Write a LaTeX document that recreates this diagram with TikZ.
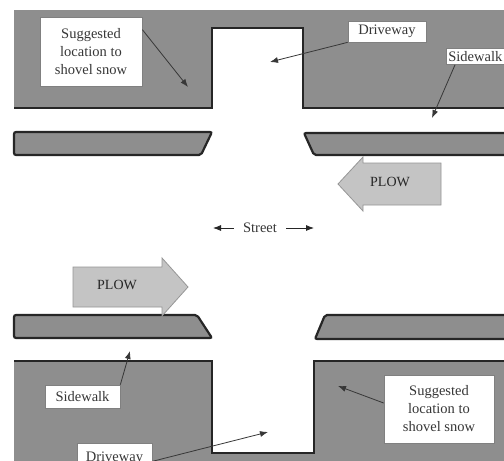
\documentclass[tikz,border=0pt]{standalone}
\usepackage{fontspec}
\setmainfont{Liberation Serif}
\usetikzlibrary{arrows.meta}
\definecolor{lawn}{RGB}{142,142,142}
\definecolor{edge}{RGB}{38,38,38}
\definecolor{plowfill}{RGB}{196,196,196}
\definecolor{plowedge}{RGB}{150,150,150}
\definecolor{ink}{RGB}{55,55,55}

\begin{document}
\begin{tikzpicture}[x=1pt,y=-1pt,
    tag/.style={draw=gray,fill=white,line width=0.7pt,text=ink,inner sep=2pt,font=\fontsize{14.5}{18}\selectfont},
    pointer/.style={ink,line width=0.8pt,-{Latex[length=8pt,width=6pt]}},
    walk/.style={fill=lawn,draw=edge,line width=2.2pt,rounded corners=2pt},
    plow/.style={fill=plowfill,draw=plowedge,line width=0.8pt}]
    \clip (0,0) rectangle (504,461);
    \fill[white] (0,0) rectangle (504,461);

% top yard, driveway cut out
    \fill[lawn] (14,10) -- (504,10) -- (504,108) -- (303,108) -- (303,28) -- (212,28) -- (212,108) -- (14,108) -- cycle;
    \draw[edge,line width=2.2pt] (14,108) -- (212,108) -- (212,28) -- (303,28) -- (303,108) -- (510,108);

% sidewalks
    \draw[walk] (14,132) -- (212,132) -- (201,155) -- (14,155) -- cycle;
    \draw[walk] (304,133) -- (510,133) -- (510,155) -- (314,155) -- cycle;
    \draw[walk] (14,315) -- (197,315) -- (212,338) -- (14,338) -- cycle;
    \draw[walk] (325,315) -- (510,315) -- (510,339) -- (315,339) -- cycle;

% bottom yard, driveway cut out
    \fill[lawn] (14,361) -- (212,361) -- (212,453) -- (314,453) -- (314,361) -- (504,361) -- (504,461) -- (14,461) -- cycle;
    \draw[edge,line width=2.2pt] (14,361) -- (212,361) -- (212,453) -- (314,453) -- (314,361) -- (510,361);

% plows
    \draw[plow] (338,184) -- (363,157) -- (363,163) -- (441,163) -- (441,205) -- (363,205) -- (363,211) -- cycle;
    \node[text=edge,font=\fontsize{14}{16}\selectfont] (plowR) at (390,182) {PLOW};
    \draw[plow] (188,287) -- (162,258) -- (162,267) -- (73,267) -- (73,307) -- (162,307) -- (162,316) -- cycle;
    \node[text=edge,font=\fontsize{14}{16}\selectfont] (plowL) at (117,285) {PLOW};

% street
    \node[text=ink,inner xsep=9pt,font=\fontsize{14.5}{18}\selectfont] (street) at (260,228) {Street};
    \coordinate (streetL) at (213,228);
    \coordinate (streetR) at (314,228);
    \draw[pointer,edge] (street.west) -- (streetL);
    \draw[pointer,edge] (street.east) -- (streetR);

% labels
    \node[tag,minimum width=102,minimum height=69,align=center] (snowT) at (91,51.5) {Suggested\\location to\\shovel snow};
    \node[tag,minimum width=78,minimum height=21] (driveT) at (387,31.5) {Driveway};
    \node[tag,anchor=west,minimum height=16] (walkT) at (446,56.5) {Sidewalk};
    \node[tag,minimum width=75,minimum height=23] (walkB) at (82.5,396.5) {Sidewalk};
    \node[tag,anchor=north,minimum width=75,minimum height=30] (driveB) at (114.5,443) {Driveway};
    \node[tag,minimum width=110,minimum height=68,align=center] (snowB) at (439,409) {Suggested\\location to\\shovel snow};

    \coordinate (snowTtip) at (188,87);
    \coordinate (driveTtip) at (270,62);
    \coordinate (walkTtip) at (432,118);
    \coordinate (walkBtip) at (130,351);
    \coordinate (driveBtip) at (268,432);
    \coordinate (snowBtip) at (338,386);

    \draw[pointer] ([yshift=-13pt]snowT.north east) -- (snowTtip);
    \draw[pointer] (driveT.south west) -- (driveTtip);
    \draw[pointer] ([xshift=9pt]walkT.south west) -- (walkTtip);
    \draw[pointer] (walkB.north east) -- (walkBtip);
    \draw[pointer] ([yshift=-3pt]driveB.east) -- (driveBtip);
    \draw[pointer] ([yshift=6pt]snowB.west) -- (snowBtip);

\end{tikzpicture}
\end{document}
